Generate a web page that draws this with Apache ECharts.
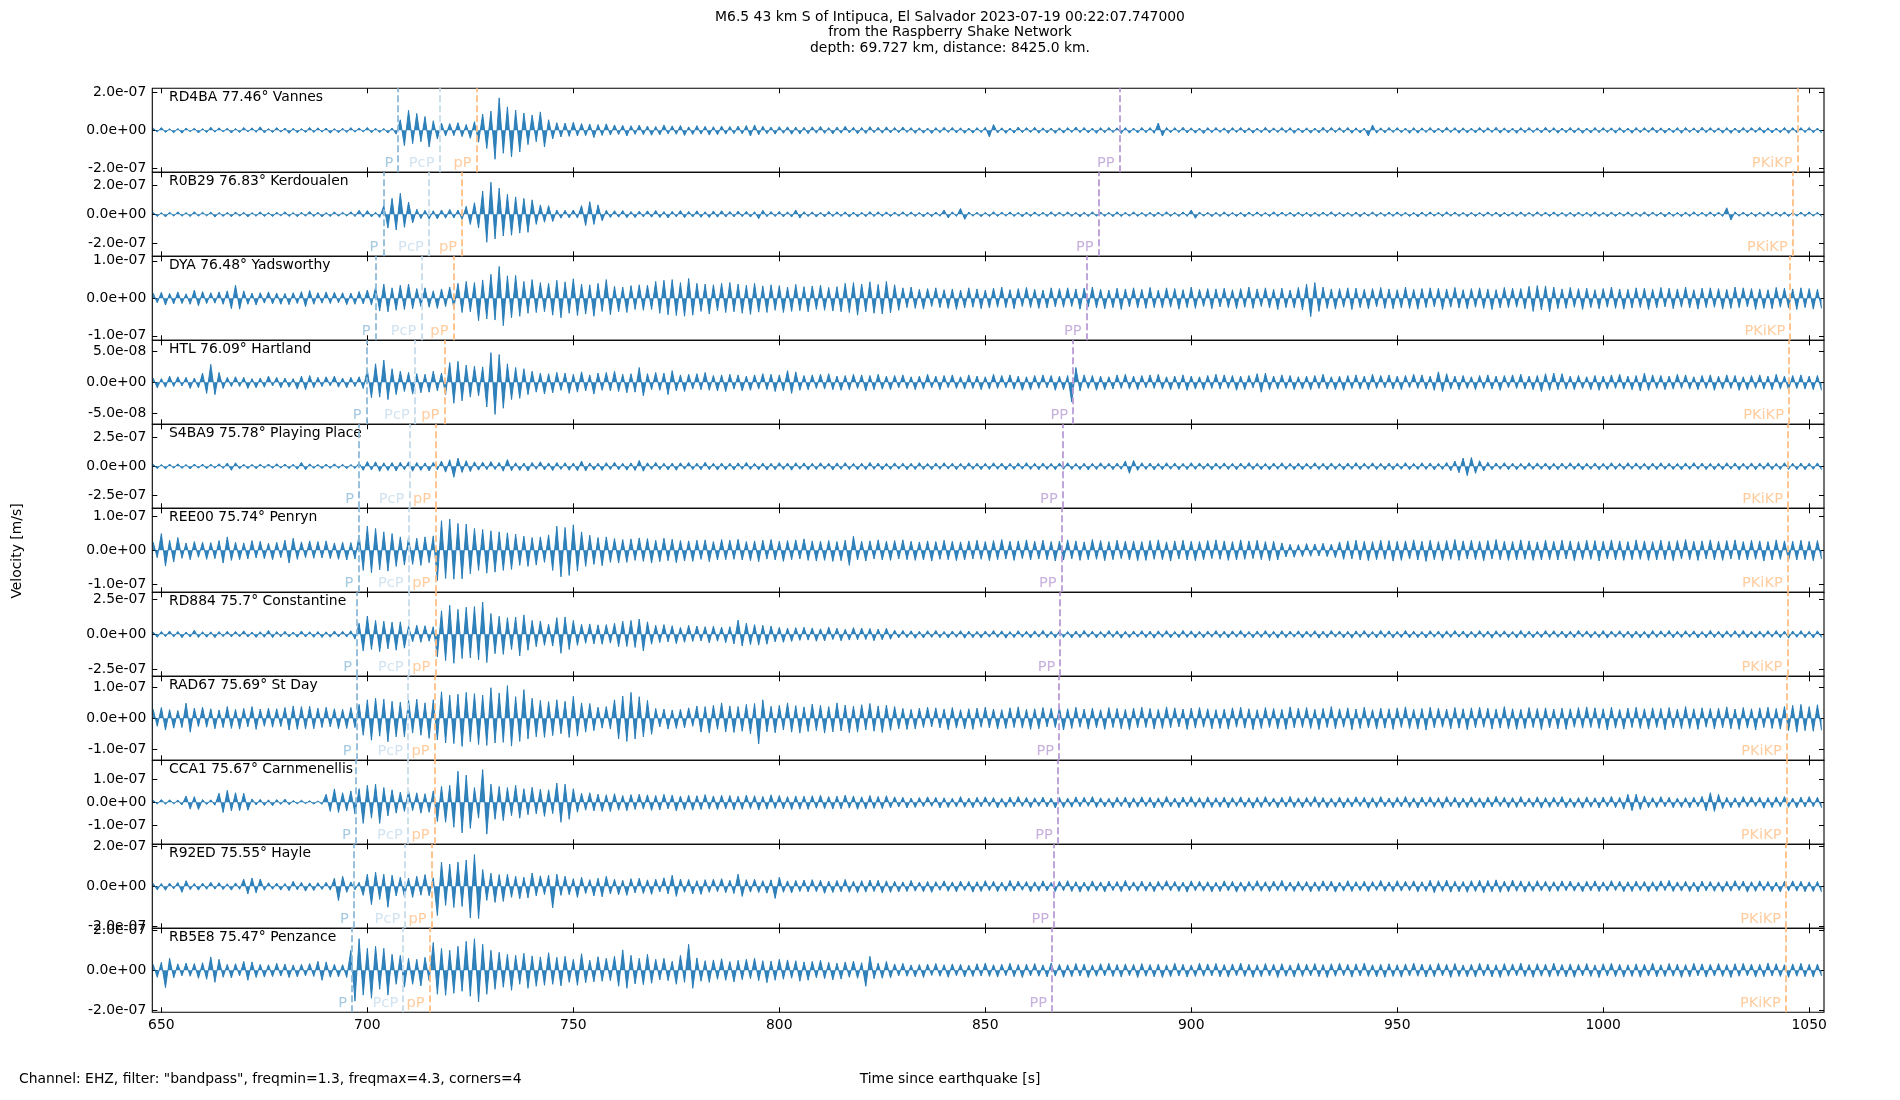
<!DOCTYPE html>
<html><head><meta charset="utf-8">
<script src="https://cdn.jsdelivr.net/npm/echarts@6/dist/echarts.min.js"></script>
<style>html,body{margin:0;padding:0;background:#fff}#c{width:1900px;height:1100px}</style>
</head><body><div id="c"></div>
<script>
// ---- data (velocity in nm/s = 1e-9 m/s, one peak value per second from t0) ----
const stations = ['RD4BA 77.46° Vannes','R0B29 76.83° Kerdoualen','DYA 76.48° Yadsworthy','HTL 76.09° Hartland','S4BA9 75.78° Playing Place','REE00 75.74° Penryn','RD884 75.7° Constantine','RAD67 75.69° St Day','CCA1 75.67° Carnmenellis','R92ED 75.55° Hayle','RB5E8 75.47° Penzance'];
const yLimits = [219, 290, 112, 68, 358, 125, 303, 136, 185, 208, 210];
const yTickSteps = [200, 200, 100, 50, 250, 100, 250, 100, 100, 200, 200];
const xTicks = [650, 700, 750, 800, 850, 900, 950, 1000, 1050];
const xRange = [647.8, 1053.6];
const t0 = 648;
const phaseNames = ['P', 'PcP', 'pP', 'PP', 'PKiKP'];
const pTimes = [707.5, 703.9, 702.0, 699.8, 698.0, 697.8, 697.5, 697.4, 697.2, 696.7, 696.3];
const pcpTimes = [717.5, 714.9, 713.1, 711.5, 710.2, 710.0, 710.0, 709.9, 709.8, 709.2, 708.7];
const pPTimes = [726.5, 723.0, 720.9, 718.7, 716.7, 716.5, 716.5, 716.3, 716.3, 715.6, 715.1];
const ppTimes = [882.6, 877.5, 874.6, 871.3, 868.8, 868.5, 868.2, 867.9, 867.6, 866.7, 866.2];
const pkikpTimes = [1047.2, 1046.0, 1045.4, 1045.1, 1044.9, 1044.8, 1044.7, 1044.6, 1044.5, 1044.4, 1044.3];

const trRD4BA = [12,-9,14,-11,8,-13,10,-15,12,-8,11,-14,9,-12,16,-10,13,-9,11,-14,
10,-12,15,-9,13,-11,18,-14,9,-12,14,-10,12,-16,11,-13,9,-11,15,-12,
13,-10,12,-15,9,-13,11,-12,14,-10,12,-9,15,-13,11,-12,10,-14,12,-20,
55,-80,104,-70,88,-60,72,-87,50,-45,38,-30,35,-28,40,-33,30,-42,45,-62,
85,-95,100,-151,169,-120,122,-139,105,-113,90,-75,80,-60,96,-87,55,-45,40,-35,
38,-32,42,-30,35,-28,33,-38,30,-27,34,-25,28,-22,26,-30,24,-21,27,-23,
22,-26,20,-24,28,-19,23,-21,25,-27,18,-22,24,-20,21,-25,19,-23,22,-20,
20,-18,22,-19,25,-30,28,-24,21,-18,17,-20,19,-16,18,-21,17,-19,16,-18,
18,-15,20,-16,14,-19,17,-15,21,-14,16,-18,15,-17,19,-13,16,-15,18,-14,
15,-13,17,-12,14,-16,13,-15,12,-17,14,-13,16,-12,15,-14,13,-16,12,-15,
14,-12,16,-35,30,-14,13,-16,12,-15,17,-13,14,-12,16,-15,13,-14,12,-16,
13,-15,14,-12,17,-13,15,-14,12,-16,14,-13,15,-12,13,-17,14,-15,12,-14,
15,-13,14,-16,38,-30,15,-13,14,-12,16,-14,13,-15,12,-17,14,-13,15,-12,
13,-16,14,-12,15,-14,13,-15,12,-13,16,-14,13,-12,15,-13,14,-16,12,-14,
13,-15,12,-14,16,-13,15,-12,14,-13,15,-16,13,-14,12,-30,28,-15,13,-14,
15,-12,14,-13,12,-16,14,-15,13,-12,15,-14,12,-13,16,-12,14,-15,13,-14,
12,-14,15,-13,14,-12,16,-15,13,-14,12,-16,14,-13,15,-12,13,-14,16,-13,
14,-15,12,-13,15,-14,13,-16,12,-14,15,-13,14,-12,13,-15,14,-13,12,-16,
15,-13,14,-12,16,-14,13,-15,12,-13,14,-16,15,-12,13,-14,16,-13,14,-12,
13,-15,14,-16,12,-14,15,-13,14,-12,16,-15,13,-14,12,-13,15,-16,14,-13,
14,-12,15,-13,12,-14];
const trR0B29 = [14,-16,12,-18,15,-13,17,-14,12,-16,18,-13,15,-12,16,-19,13,-15,14,-17,
16,-13,15,-18,12,-14,17,-15,13,-16,14,-12,18,-15,13,-17,15,-14,20,-16,
15,-18,13,-16,17,-14,15,-13,18,-16,28,-20,26,-18,15,-22,60,-95,110,-108,
145,-90,85,-60,35,-30,28,-33,25,-32,30,-27,34,-26,29,-35,55,-70,80,-95,
160,-193,221,-170,180,-150,138,-145,120,-130,110,-125,100,-70,65,-55,60,-50,30,-27,
28,-25,30,-26,60,-78,87,-70,65,-45,28,-22,25,-20,26,-24,19,-23,22,-18,
24,-20,27,-22,19,-25,21,-18,26,-23,20,-19,24,-21,18,-22,23,-20,25,-19,
20,-18,22,-17,21,-19,18,-30,28,-17,19,-16,20,-18,17,-19,30,-26,18,-16,
17,-19,15,-18,20,-16,18,-15,17,-19,16,-18,15,-17,19,-16,18,-15,17,-16,
16,-14,18,-15,17,-16,14,-18,15,-17,16,-14,30,-25,17,-15,40,-35,16,-14,
15,-17,14,-16,18,-15,16,-14,17,-15,14,-18,16,-15,17,-14,15,-16,18,-15,
16,-14,17,-15,14,-18,15,-16,17,-14,16,-15,14,-17,18,-16,15,-14,17,-15,
14,-16,15,-17,16,-14,18,-15,14,-16,17,-15,30,-28,16,-14,15,-17,14,-16,
17,-15,14,-16,15,-18,16,-14,17,-15,14,-16,18,-15,16,-14,15,-17,16,-15,
15,-17,14,-15,16,-14,18,-16,15,-17,14,-15,16,-18,15,-14,17,-16,14,-15,
16,-15,17,-14,15,-16,14,-18,16,-15,17,-14,15,-16,18,-14,16,-15,14,-17,
15,-16,14,-15,17,-14,16,-18,15,-14,16,-15,17,-16,14,-15,18,-14,16,-15,
17,-15,14,-16,15,-17,16,-14,15,-16,18,-15,14,-17,16,-15,15,-14,17,-16,
14,-16,17,-15,16,-14,15,-18,16,-15,14,-17,16,-15,18,-14,15,-16,17,-15,
16,-15,45,-40,17,-14,16,-15,14,-17,15,-16,18,-14,16,-15,17,-16,15,-14,
16,-15,17,-14,15,-16];
const trDYA = [14,-12,16,-18,13,-15,17,-14,12,-16,22,-20,18,-14,15,-13,17,-16,20,-28,
35,-29,20,-16,14,-18,15,-13,17,-15,14,-16,13,-17,15,-14,18,-22,21,-16,
15,-13,17,-14,16,-12,15,-17,14,-16,18,-15,22,-18,30,-34,38,-36,28,-32,
35,-30,38,-28,26,-22,28,-24,20,-27,25,-22,30,-26,40,-38,45,-36,42,-60,
49,-55,64,-58,85,-73,60,-52,61,-48,45,-40,50,-38,42,-36,40,-45,48,-52,
44,-40,52,-46,38,-42,36,-48,40,-35,50,-44,32,-36,30,-38,34,-30,36,-32,
35,-30,45,-40,48,-44,50,-46,42,-48,53,-45,40,-35,38,-42,36,-33,40,-38,
42,-36,38,-40,35,-43,40,-37,33,-38,36,-32,34,-38,30,-35,37,-33,31,-36,
33,-30,35,-32,29,-34,31,-36,40,-38,42,-45,38,-36,44,-40,37,-42,45,-39,
36,-32,28,-25,30,-27,24,-29,26,-22,28,-25,23,-27,25,-30,22,-26,28,-24,
25,-28,22,-26,27,-24,30,-25,23,-28,26,-22,29,-25,24,-27,22,-26,28,-23,
26,-24,28,-22,25,-29,27,-23,30,-26,24,-28,22,-25,27,-30,25,-23,28,-26,
24,-27,29,-25,22,-26,28,-24,26,-29,23,-25,30,-27,24,-22,26,-28,25,-23,
27,-25,23,-28,26,-24,30,-27,25,-22,28,-26,24,-30,27,-25,22,-26,29,-31,
38,-49,42,-35,30,-27,25,-29,26,-24,28,-30,27,-25,24,-28,26,-23,29,-27,
25,-28,23,-26,30,-27,24,-29,26,-25,28,-23,27,-30,25,-24,29,-26,23,-28,
26,-24,28,-27,25,-30,23,-26,29,-25,27,-24,26,-28,32,-35,34,-31,33,-36,
30,-28,25,-27,29,-24,26,-30,27,-25,23,-28,26,-24,30,-27,25,-29,24,-26,
28,-25,27,-30,24,-26,29,-23,27,-28,25,-24,30,-26,23,-29,27,-25,28,-24,
26,-29,24,-27,30,-25,28,-23,26,-30,25,-27,23,-28,29,-24,27,-26,25,-30,
28,-25,26,-29,24,-27];
const trHTL = [7,-9,6,-8,10,-7,9,-6,8,-10,7,-9,15,-18,29,-20,16,-10,8,-7,
9,-7,8,-10,6,-9,7,-8,10,-6,8,-9,7,-8,6,-11,10,-12,11,-9,
8,-7,9,-6,10,-8,7,-9,8,-7,9,-10,20,-25,30,-24,36,-28,22,-20,
18,-15,16,-19,14,-17,13,-16,18,-14,15,-20,32,-34,34,-30,28,-24,26,-22,
25,-40,48,-52,45,-42,30,-28,24,-26,22,-20,18,-16,15,-19,14,-17,16,-13,
15,-18,13,-16,17,-14,12,-19,15,-13,16,-14,18,-15,13,-17,14,-16,24,-22,
14,-12,16,-13,15,-20,19,-14,12,-15,13,-11,14,-12,16,-13,11,-14,12,-15,
13,-11,12,-14,10,-13,12,-11,14,-12,13,-15,12,-14,19,-18,17,-13,11,-12,
12,-10,13,-11,14,-12,10,-13,11,-12,13,-10,12,-14,11,-12,13,-11,10,-12,
11,-9,12,-10,9,-12,10,-11,13,-9,10,-12,11,-9,12,-10,9,-11,12,-10,
10,-12,9,-11,13,-10,11,-9,12,-11,10,-13,9,-12,11,-10,12,-9,11,-13,
10,-12,11,-32,24,-14,12,-10,11,-13,10,-12,9,-11,12,-10,13,-11,10,-12,
11,-9,12,-10,13,-11,9,-12,10,-11,12,-13,10,-11,9,-12,11,-10,13,-11,
12,-10,11,-13,10,-12,11,-9,14,-16,15,-12,10,-11,12,-10,11,-12,9,-11,
10,-12,11,-10,13,-11,9,-12,10,-13,11,-10,12,-11,10,-12,13,-10,11,-9,
12,-11,10,-12,11,-9,13,-10,12,-11,10,-13,17,-15,14,-11,10,-12,11,-10,
9,-12,11,-10,12,-11,10,-13,11,-9,12,-10,13,-11,10,-12,11,-15,14,-13,
15,-12,14,-11,10,-12,11,-10,9,-12,11,-13,10,-11,12,-10,13,-11,10,-12,
11,-14,15,-13,12,-10,11,-12,10,-11,13,-10,12,-11,9,-12,11,-10,12,-13,
10,-11,12,-10,11,-13,9,-12,11,-10,12,-11,10,-12,13,-11,10,-12,11,-10,
12,-11,10,-12,11,-13];
const trS4BA9 = [18,-20,16,-22,19,-17,21,-18,16,-23,20,-17,19,-21,18,-16,22,-19,28,-34,
30,-22,18,-20,17,-21,19,-16,20,-18,22,-17,19,-20,18,-25,34,-30,21,-18,
17,-20,19,-18,21,-17,18,-20,16,-19,28,-35,40,-32,38,-43,30,-36,33,-40,
35,-30,38,-42,32,-36,29,-40,34,-31,45,-50,56,-94,70,-52,48,-45,38,-33,
36,-30,40,-28,33,-42,57,-38,30,-35,28,-40,33,-26,38,-31,29,-36,32,-27,
30,-34,28,-38,45,-40,29,-32,27,-35,31,-28,34,-30,26,-33,29,-36,50,-42,
30,-27,33,-29,26,-31,28,-34,30,-25,32,-28,27,-30,35,-29,26,-32,28,-30,
27,-31,29,-26,33,-28,25,-30,28,-32,26,-29,31,-27,28,-33,30,-26,29,-31,
26,-28,30,-25,27,-32,29,-26,31,-28,25,-30,27,-29,33,-26,28,-31,26,-27,
29,-25,27,-30,26,-28,31,-27,25,-29,28,-26,30,-24,27,-29,25,-28,30,-26,
27,-29,25,-28,30,-26,28,-31,26,-27,29,-25,31,-28,26,-30,28,-27,25,-29,
28,-26,30,-27,25,-29,27,-31,26,-28,30,-25,27,-29,28,-26,45,-60,50,-35,
30,-27,28,-31,26,-29,30,-26,28,-30,25,-28,31,-27,29,-26,27,-30,28,-25,
29,-27,26,-30,28,-25,31,-28,27,-29,25,-31,28,-26,30,-27,26,-29,28,-30,
27,-25,30,-28,26,-31,29,-27,25,-30,28,-26,31,-29,27,-25,30,-28,26,-29,
28,-30,27,-26,31,-29,25,-28,30,-27,29,-31,26,-28,33,-38,45,-55,70,-80,
75,-60,48,-40,35,-30,28,-26,31,-29,27,-30,25,-28,30,-27,29,-26,28,-31,
26,-29,28,-25,30,-27,29,-31,27,-26,28,-30,25,-29,31,-27,26,-28,30,-25,
29,-27,26,-31,28,-29,30,-26,27,-28,25,-30,29,-27,31,-26,28,-29,26,-30,
27,-29,30,-25,28,-31,26,-27,29,-30,28,-26,31,-29,25,-28,30,-27,26,-29,
28,-30,27,-26,29,-28];
const trREE00 = [25,-22,50,-47,30,-35,38,-24,22,-28,26,-21,24,-27,23,-25,29,-38,40,-30,
24,-28,22,-26,29,-23,27,-25,21,-28,24,-22,30,-38,36,-27,25,-22,28,-24,
26,-23,28,-25,22,-27,24,-29,23,-26,45,-60,72,-67,65,-58,55,-62,50,-48,
40,-44,38,-42,36,-45,40,-37,43,-90,88,-84,93,-86,80,-85,78,-70,65,-60,
62,-68,58,-65,55,-60,52,-57,48,-45,42,-48,38,-44,40,-36,46,-60,72,-79,
68,-75,76,-62,55,-48,45,-42,38,-46,40,-36,35,-38,32,-36,34,-30,37,-33,
35,-38,30,-34,36,-31,33,-37,29,-32,28,-33,30,-27,31,-34,26,-29,32,-28,
30,-27,33,-29,26,-31,28,-34,30,-26,32,-29,27,-33,29,-28,31,-26,34,-30,
28,-32,27,-30,29,-33,26,-31,30,-45,42,-29,27,-32,28,-26,31,-29,27,-30,
29,-26,31,-28,27,-30,25,-29,28,-32,26,-27,30,-28,27,-31,25,-29,28,-26,
30,-27,26,-31,29,-28,32,-26,27,-30,28,-25,31,-29,27,-26,30,-28,26,-32,
27,-29,31,-26,28,-30,25,-28,32,-27,29,-31,26,-28,30,-25,27,-29,28,-31,
26,-30,29,-27,31,-28,25,-32,28,-26,30,-29,27,-31,26,-28,29,-25,31,-27,
28,-30,26,-29,31,-27,28,-25,30,-28,26,-31,27,-29,22,-20,18,-21,17,-19,
20,-18,19,-17,21,-19,18,-22,25,-27,28,-26,30,-29,27,-31,26,-28,30,-27,
29,-32,27,-30,28,-26,31,-29,27,-33,30,-28,26,-31,29,-27,32,-30,28,-26,
30,-28,27,-31,29,-26,32,-28,27,-30,26,-29,31,-27,28,-30,25,-29,30,-28,
27,-29,30,-26,28,-31,26,-28,30,-27,29,-32,27,-26,31,-29,28,-30,26,-28,
31,-27,28,-30,26,-29,30,-28,27,-31,29,-26,32,-28,27,-30,28,-26,31,-29,
27,-30,29,-26,31,-28,26,-29,30,-27,28,-32,26,-29,31,-27,28,-30,27,-29,
30,-28,27,-31,29,-26];
const trRD884 = [18,-22,20,-17,24,-19,21,-25,17,-20,30,-23,19,-21,18,-24,20,-17,22,-19,
21,-18,25,-20,17,-23,19,-21,28,-24,20,-18,22,-19,17,-21,24,-20,19,-22,
20,-23,18,-21,24,-19,22,-20,25,-35,80,-120,132,-110,100,-125,95,-105,88,-115,
90,-100,60,-55,65,-58,62,-50,55,-163,170,-190,209,-209,180,-175,195,-170,200,-185,
233,-204,150,-140,130,-145,120,-110,125,-156,140,-115,100,-90,96,-80,72,-85,120,-137,
125,-110,100,-80,72,-65,75,-70,68,-72,70,-64,80,-90,95,-88,100,-95,110,-120,
90,-72,65,-60,70,-55,62,-68,50,-58,65,-52,60,-48,55,-62,58,-50,52,-60,
55,-70,103,-85,80,-75,70,-78,65,-72,60,-55,50,-58,45,-52,48,-44,50,-42,
46,-50,40,-48,52,-38,44,-47,36,-42,48,-40,45,-38,42,-46,38,-40,44,-36,
30,-26,28,-24,25,-29,22,-27,26,-23,28,-25,21,-27,24,-22,26,-28,23,-25,
22,-26,24,-21,27,-23,25,-28,20,-24,26,-22,23,-27,25,-21,28,-24,22,-26,
25,-23,21,-27,24,-25,28,-22,23,-26,21,-24,27,-23,25,-28,22,-25,24,-21,
26,-24,23,-28,25,-22,27,-26,21,-24,28,-23,25,-27,22,-26,24,-21,27,-25,
23,-27,25,-22,28,-24,21,-26,24,-23,27,-25,22,-28,26,-24,23,-21,25,-27,
24,-22,26,-28,23,-25,27,-21,24,-26,22,-28,25,-23,27,-24,21,-26,28,-23,
25,-27,22,-24,28,-26,23,-25,21,-27,26,-22,24,-28,25,-23,27,-21,24,-26,
22,-25,27,-23,24,-28,26,-22,25,-24,21,-27,28,-25,23,-26,22,-24,27,-23,
26,-22,24,-27,23,-25,28,-21,25,-26,22,-24,27,-28,24,-22,26,-25,23,-27,
24,-26,22,-28,27,-23,25,-21,28,-26,23,-24,26,-22,25,-27,21,-25,28,-24,
23,-27,25,-22,26,-24,28,-25,22,-27,24,-23,26,-21,27,-25,23,-28,24,-22,
26,-24,22,-27,25,-23];
const trRAD67 = [30,-26,35,-38,28,-32,25,-30,49,-45,33,-27,36,-29,31,-34,27,-30,38,-33,
29,-35,32,-28,38,-36,30,-26,33,-29,31,-27,35,-38,40,-36,38,-35,39,-34,
33,-30,36,-28,31,-34,29,-33,35,-30,45,-55,60,-71,65,-58,62,-76,55,-60,
52,-60,58,-48,62,-55,50,-65,60,-70,86,-80,75,-82,78,-91,84,-76,80,-85,
75,-88,99,-80,82,-78,106,-90,70,-75,93,-67,65,-60,58,-62,54,-56,60,-50,
55,-62,71,-58,50,-45,48,-40,36,-32,38,-35,60,-67,72,-75,84,-67,70,-60,
58,-52,32,-28,30,-35,27,-33,29,-31,34,-26,40,-45,38,-48,42,-36,50,-44,
40,-46,38,-42,45,-50,48,-83,60,-44,39,-47,42,-38,50,-45,41,-48,37,-43,
46,-40,42,-48,38,-44,50,-41,43,-47,39,-45,44,-38,48,-42,40,-46,43,-39,
38,-34,32,-36,29,-35,33,-30,36,-28,34,-31,30,-37,35,-32,28,-34,31,-36,
33,-29,36,-31,30,-35,28,-33,34,-30,37,-32,29,-36,31,-34,35,-28,32,-30,
34,-38,31,-33,36,-29,30,-35,33,-31,28,-36,35,-30,32,-34,29,-37,33,-31,
36,-30,32,-35,29,-33,37,-31,34,-28,30,-36,33,-32,35,-29,31,-34,28,-33,
30,-35,34,-29,36,-32,31,-37,28,-33,35,-30,32,-34,29,-36,37,-31,33,-30,
35,-33,29,-36,32,-30,38,-34,31,-29,34,-37,30,-33,36,-31,28,-35,33,-32,
31,-36,34,-30,37,-33,29,-35,32,-38,36,-31,33,-29,30,-34,35,-32,31,-37,
34,-31,36,-29,33,-35,30,-32,38,-34,31,-36,29,-33,35,-30,32,-37,34,-31,
30,-34,33,-36,31,-29,35,-32,37,-30,34,-33,31,-38,36,-32,29,-35,33,-30,
36,-33,31,-35,34,-30,32,-37,35,-31,30,-34,38,-33,31,-36,34,-29,32,-35,
33,-31,37,-34,30,-36,35,-32,31,-38,34,-30,36,-33,32,-35,38,-40,42,-45,
45,-40,38,-42,44,-39];
const trCCA1 = [10,-8,12,-9,11,-7,10,-12,28,-30,25,-32,12,-10,11,-13,40,-45,53,-38,
42,-37,40,-35,15,-12,13,-14,11,-15,12,-10,14,-11,8,-7,9,-6,7,-8,
6,-9,35,-40,59,-45,42,-38,50,-51,60,-93,75,-70,80,-93,65,-60,55,-48,
45,-40,50,-37,42,-48,38,-44,50,-85,70,-88,75,-110,137,-135,120,-115,65,-70,
144,-140,80,-75,70,-81,65,-59,75,-70,60,-55,66,-51,58,-62,55,-50,85,-88,
80,-75,60,-44,40,-35,42,-38,36,-40,33,-41,38,-35,30,-37,34,-32,36,-30,
33,-36,30,-34,35,-29,32,-38,28,-33,31,-35,29,-32,34,-30,28,-33,31,-29,
30,-33,27,-31,32,-28,29,-34,26,-30,33,-27,30,-29,25,-32,28,-30,27,-31,
29,-26,31,-28,25,-30,27,-29,32,-26,28,-31,24,-29,30,-27,26,-28,29,-25,
24,-21,22,-25,19,-23,21,-20,24,-18,22,-25,20,-23,18,-21,25,-22,19,-24,
22,-20,24,-19,21,-25,18,-22,23,-20,25,-19,22,-24,20,-18,23,-21,19,-25,
21,-23,19,-22,24,-20,22,-18,25,-23,20,-21,18,-24,22,-19,23,-25,20,-22,
24,-19,22,-25,20,-23,26,-21,19,-24,23,-20,25,-22,21,-26,24,-23,20,-22,
23,-25,21,-19,24,-22,20,-26,22,-23,25,-20,19,-24,22,-21,26,-23,20,-24,
22,-20,25,-23,21,-24,19,-22,23,-25,20,-21,24,-19,22,-26,21,-23,25,-20,
19,-24,22,-21,26,-23,20,-25,23,-19,24,-22,21,-26,25,-20,22,-24,19,-23,
24,-22,20,-25,23,-21,26,-19,22,-24,21,-23,25,-20,19,-22,24,-26,21,-23,
22,-20,25,-24,19,-23,21,-26,24,-22,20,-25,23,-21,26,-24,22,-30,35,-37,
36,-32,28,-24,21,-23,25,-20,22,-24,19,-23,21,-25,22,-20,26,-38,42,-40,
35,-28,22,-24,20,-23,25,-21,24,-19,22,-26,21,-23,24,-20,25,-22,19,-24,
23,-21,25,-20,22,-24];
const trR92ED = [15,-18,14,-20,16,-13,19,-30,28,-17,14,-19,16,-15,20,-14,18,-16,13,-19,
17,-15,35,-38,41,-33,36,-20,18,-15,16,-19,14,-22,25,-18,20,-24,17,-21,
18,-16,20,-19,40,-71,50,-30,22,-18,20,-45,60,-91,70,-65,60,-104,55,-48,
45,-52,41,-55,50,-44,58,-47,42,-145,120,-95,110,-105,120,-100,130,-157,157,-160,
83,-70,65,-80,58,-75,60,-55,50,-62,45,-58,66,-48,52,-41,55,-107,60,-45,
50,-42,38,-55,45,-36,33,-48,40,-52,50,-38,35,-42,30,-45,38,-33,40,-36,
32,-40,35,-28,42,-38,55,-50,36,-30,34,-38,28,-40,33,-30,35,-27,38,-32,
30,-36,60,-50,33,-29,35,-31,28,-34,32,-60,45,-30,27,-33,29,-26,31,-28,
33,-27,30,-35,26,-31,29,-27,34,-30,25,-32,28,-29,31,-26,30,-33,27,-30,
25,-28,22,-26,29,-24,21,-27,24,-30,23,-20,27,-25,22,-28,26,-21,24,-29,
23,-26,28,-22,25,-27,21,-24,29,-23,26,-20,24,-28,22,-25,27,-23,20,-26,
25,-22,28,-26,23,-29,21,-25,27,-24,22,-28,26,-21,24,-27,29,-23,22,-25,
26,-24,22,-27,25,-20,28,-23,24,-26,21,-29,27,-22,25,-24,23,-28,20,-26,
27,-23,25,-29,22,-26,24,-21,28,-25,23,-27,26,-22,29,-24,21,-26,25,-23,
24,-28,22,-25,27,-23,26,-29,21,-24,28,-26,23,-22,25,-27,24,-21,29,-25,
22,-26,28,-24,25,-22,27,-28,23,-25,30,-32,28,-26,31,-29,25,-27,24,-30,
28,-26,30,-33,29,-27,32,-30,26,-28,31,-25,27,-29,24,-26,28,-23,25,-27,
23,-25,27,-22,26,-24,21,-28,25,-23,27,-26,22,-24,28,-21,25,-27,23,-26,
26,-22,24,-28,23,-25,27,-21,29,-26,22,-24,25,-27,21,-28,26,-23,24,-25,
22,-27,25,-24,28,-21,26,-29,23,-25,27,-22,24,-26,21,-28,25,-23,27,-24,
25,-27,22,-26,24,-28];
const trRB5E8 = [30,-35,40,-87,60,-38,32,-28,36,-30,34,-40,38,-45,67,-60,55,-35,30,-38,
33,-28,45,-50,42,-36,30,-34,28,-32,35,-29,31,-36,27,-33,30,-28,34,-31,
45,-50,42,-35,30,-33,28,-36,100,-154,158,-124,110,-140,120,-95,110,-124,80,-70,
75,-84,60,-70,55,-78,65,-52,139,-120,110,-125,100,-115,120,-105,145,-130,158,-158,
130,-120,100,-95,90,-85,80,-100,75,-70,85,-90,72,-80,67,-75,88,-70,65,-78,
70,-60,55,-75,83,-62,50,-58,68,-55,60,-52,70,-80,102,-90,75,-68,60,-72,
80,-65,55,-48,60,-52,45,-70,75,-60,130,-90,62,-55,48,-60,52,-45,58,-50,
44,-58,50,-47,55,-42,60,-52,48,-62,46,-50,55,-45,52,-40,48,-55,42,-50,
45,-38,50,-42,40,-48,36,-44,42,-35,46,-40,38,-80,70,-42,36,-40,44,-38,
32,-28,35,-30,27,-33,29,-36,31,-26,34,-30,28,-35,32,-27,30,-33,26,-31,
33,-29,36,-31,28,-34,30,-27,35,-32,29,-36,31,-28,34,-30,27,-33,36,-29,
30,-35,28,-32,34,-29,31,-36,27,-30,33,-28,35,-31,29,-34,32,-27,30,-36,
34,-30,29,-33,31,-36,28,-32,35,-29,30,-34,27,-31,36,-30,32,-28,34,-33,
29,-34,32,-28,36,-31,30,-35,28,-32,34,-29,31,-36,33,-30,27,-34,35,-31,
31,-28,34,-32,29,-36,33,-30,35,-27,30,-34,32,-29,36,-31,28,-33,30,-35,
33,-31,28,-35,32,-29,36,-30,31,-34,29,-32,35,-28,30,-36,34,-31,27,-33,
30,-34,35,-29,31,-33,28,-36,34,-30,32,-28,36,-31,29,-35,33,-30,31,-34,
36,-30,29,-33,32,-35,30,-28,34,-31,27,-36,33,-29,35,-32,30,-34,28,-31,
32,-35,30,-29,36,-33,28,-31,34,-30,31,-36,29,-33,35,-28,32,-34,30,-29,
34,-31,29,-36,33,-30,35,-28,31,-34,30,-32,36,-29,33,-31,28,-35,32,-30,
35,-32,30,-34,31,-29];
const traces = [trRD4BA, trR0B29, trDYA, trHTL, trS4BA9, trREE00, trRD884, trRAD67, trCCA1, trR92ED, trRB5E8];

// ---- chart ----
const phaseTimes = [pTimes, pcpTimes, pPTimes, ppTimes, pkikpTimes];
const phaseColors = ['#8fbbd9', '#c6dcec', '#ffbf86', '#b99cd6', '#ffbf86'];
const FONT = 'DejaVu Sans';
const FS = 13.9;
const plotLeft = 152.3, plotRight = 1824, plotTop = 88.3, panelH = 84;

function fmtExp(v) {
  const x = v * 1e-9;
  if (Math.abs(x) < 1e-20) return '0.0e+00';
  return x.toExponential(1).replace(/e([+-])(\d)$/, 'e$10$2');
}

const grids = [], xAxes = [], yAxes = [], series = [], graphics = [];
const n = stations.length;
for (let i = 0; i < n; i++) {
  grids.push({left: plotLeft, width: plotRight - plotLeft, top: plotTop + panelH * i, height: panelH,
    show: true, borderColor: '#000', borderWidth: 1.1, backgroundColor: 'transparent'});
  const tickStyle = {show: true, inside: true, length: 5, lineStyle: {color: '#000', width: 1}};
  const noLine = {show: false, onZero: false};
  xAxes.push({type: 'value', gridIndex: i, position: 'bottom', min: xRange[0], max: xRange[1],
    axisLine: noLine, splitLine: {show: false},
    axisTick: Object.assign({customValues: xTicks}, tickStyle),
    axisLabel: {show: i === n - 1, customValues: xTicks, color: '#000', fontSize: FS, fontFamily: FONT, margin: 6,
      formatter: v => String(Math.round(v))}});
  xAxes.push({type: 'value', gridIndex: i, position: 'top', min: xRange[0], max: xRange[1],
    axisLine: noLine, splitLine: {show: false},
    axisTick: Object.assign({customValues: xTicks}, tickStyle), axisLabel: {show: false}});
  const yl = yLimits[i], ys = yTickSteps[i];
  const yv = [-ys, 0, ys];
  yAxes.push({type: 'value', gridIndex: i, position: 'left', min: -yl, max: yl,
    axisLine: noLine, splitLine: {show: false},
    axisTick: Object.assign({customValues: yv}, tickStyle),
    axisLabel: {show: true, customValues: yv, color: '#000', fontSize: FS, fontFamily: FONT, margin: 6, formatter: fmtExp}});
  yAxes.push({type: 'value', gridIndex: i, position: 'right', min: -yl, max: yl,
    axisLine: noLine, splitLine: {show: false},
    axisTick: Object.assign({customValues: yv}, tickStyle), axisLabel: {show: false}});
  const tr = traces[i];
  series.push({type: 'line', xAxisIndex: 2 * i, yAxisIndex: 2 * i, showSymbol: false, symbol: 'none',
    data: tr.map((v, k) => [t0 + k, v]), lineStyle: {color: '#1f77b4', width: 0.9},
    areaStyle: {color: '#1f77b4', opacity: 0.92, origin: 0}, z: 2,
    silent: true, animation: false, clip: true});
  series.push({type: 'scatter', xAxisIndex: 2 * i, yAxisIndex: 2 * i, symbolSize: 0, z: 3, silent: true,
    animation: false,
    data: phaseNames.map((nm, k) => ({name: nm, value: [phaseTimes[k][i], -0.776 * yl],
      label: {color: phaseColors[k]}})),
    label: {show: true, position: 'left', distance: 5, formatter: '{b}', fontSize: 14.6, fontFamily: FONT},
    markLine: {silent: true, symbol: ['none', 'none'], animation: false, label: {show: false},
      data: phaseNames.map((nm, k) => ({xAxis: phaseTimes[k][i],
        lineStyle: {color: phaseColors[k], type: [7, 3], width: 1.8}}))}});
  graphics.push({type: 'text', x: 169, y: plotTop + panelH * i + 9,
    style: {text: stations[i], fontSize: FS, fontFamily: FONT, fill: '#000', align: 'left', verticalAlign: 'middle'}});
}
const titleLines = ['M6.5 43 km S of Intipuca, El Salvador 2023-07-19 00:22:07.747000', 'from the Raspberry Shake Network', 'depth: 69.727 km, distance: 8425.0 km.'];
titleLines.forEach((s, k) => graphics.push({type: 'text', x: 950, y: 17 + 15.7 * k,
  style: {text: s, fontSize: FS, fontFamily: FONT, fill: '#000', align: 'center', verticalAlign: 'middle'}}));
graphics.push({type: 'text', x: 17, y: 551, rotation: Math.PI / 2,
  style: {text: 'Velocity [m/s]', fontSize: FS, fontFamily: FONT, fill: '#000', align: 'center', verticalAlign: 'middle'}});
graphics.push({type: 'text', x: 950, y: 1079,
  style: {text: 'Time since earthquake [s]', fontSize: FS, fontFamily: FONT, fill: '#000', align: 'center', verticalAlign: 'middle'}});
graphics.push({type: 'text', x: 19, y: 1079,
  style: {text: 'Channel: EHZ, filter: "bandpass", freqmin=1.3, freqmax=4.3, corners=4', fontSize: FS, fontFamily: FONT, fill: '#000', align: 'left', verticalAlign: 'middle'}});

const chart = echarts.init(document.getElementById('c'), null, {renderer: 'canvas'});
chart.setOption({
  backgroundColor: '#fff', animation: false,
  textStyle: {fontFamily: FONT},
  grid: grids, xAxis: xAxes, yAxis: yAxes, series: series, graphic: graphics
});
</script></body></html>
